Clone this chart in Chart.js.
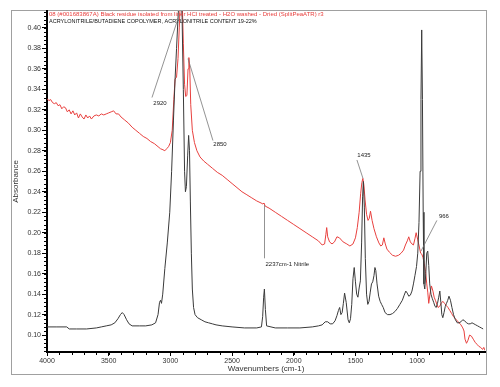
<!DOCTYPE html>
<html>
<head>
<meta charset="utf-8">
<script src="https://cdn.jsdelivr.net/npm/chart.js@4"></script>
<style>
  html, body { margin: 0; padding: 0; background: #fff; }
  canvas { display: block; }
</style>
</head>
<body>
<canvas id="irChart" width="500" height="387"></canvas>
<script>
// sample spectrum (red)
const sampleWn = [4000, 3985, 3970, 3955, 3940, 3925, 3910, 3895, 3880, 3865, 3850, 3835, 3820, 3805, 3790, 3775, 3760, 3745, 3730, 3715, 3700, 3685, 3670, 3655, 3640, 3620, 3600, 3580, 3560, 3540, 3520, 3500, 3480, 3460, 3440, 3420, 3400, 3370, 3340, 3310, 3280, 3250, 3220, 3190, 3160, 3130, 3100, 3080, 3060, 3045, 3030, 3015, 3000, 2985, 2972, 2962, 2950, 2938, 2928, 2918, 2905, 2895, 2885, 2876, 2866, 2857, 2850, 2843, 2835, 2822, 2805, 2785, 2760, 2730, 2700, 2660, 2620, 2580, 2540, 2500, 2460, 2420, 2380, 2340, 2300, 2265, 2250, 2241, 2232, 2200, 2150, 2100, 2050, 2000, 1950, 1900, 1850, 1800, 1770, 1750, 1740, 1733, 1725, 1710, 1690, 1670, 1650, 1630, 1600, 1570, 1545, 1520, 1500, 1485, 1470, 1458, 1448, 1440, 1432, 1422, 1410, 1398, 1388, 1378, 1365, 1350, 1330, 1310, 1295, 1282, 1270, 1258, 1245, 1225, 1200, 1175, 1150, 1130, 1110, 1095, 1080, 1068, 1055, 1042, 1030, 1018, 1008, 995, 982, 972, 962, 953, 943, 932, 922, 914, 906, 896, 884, 872, 862, 852, 840, 830, 818, 805, 792, 778, 765, 750, 735, 720, 705, 690, 675, 660, 645, 630, 620, 612, 600, 588, 575, 560, 545, 530, 515, 500, 485, 470, 460, 450];
const sampleAbs = [0.331, 0.329, 0.330, 0.327, 0.326, 0.327, 0.324, 0.325, 0.321, 0.323, 0.322, 0.318, 0.320, 0.316, 0.319, 0.315, 0.317, 0.312, 0.316, 0.313, 0.311, 0.315, 0.312, 0.314, 0.311, 0.314, 0.315, 0.314, 0.316, 0.315, 0.316, 0.317, 0.318, 0.319, 0.316, 0.316, 0.313, 0.310, 0.307, 0.303, 0.300, 0.297, 0.294, 0.292, 0.289, 0.287, 0.284, 0.282, 0.281, 0.280, 0.282, 0.284, 0.288, 0.300, 0.330, 0.350, 0.352, 0.370, 0.400, 0.430, 0.430, 0.385, 0.345, 0.333, 0.334, 0.360, 0.371, 0.360, 0.325, 0.300, 0.288, 0.280, 0.274, 0.270, 0.267, 0.263, 0.259, 0.256, 0.252, 0.248, 0.244, 0.240, 0.237, 0.234, 0.231, 0.229, 0.228, 0.229, 0.226, 0.224, 0.220, 0.216, 0.212, 0.208, 0.204, 0.200, 0.196, 0.192, 0.188, 0.189, 0.198, 0.205, 0.196, 0.191, 0.189, 0.191, 0.196, 0.195, 0.191, 0.189, 0.187, 0.189, 0.195, 0.205, 0.220, 0.238, 0.249, 0.253, 0.247, 0.232, 0.218, 0.212, 0.214, 0.221, 0.212, 0.204, 0.196, 0.190, 0.187, 0.188, 0.195, 0.189, 0.184, 0.181, 0.178, 0.177, 0.178, 0.180, 0.183, 0.188, 0.192, 0.196, 0.191, 0.189, 0.188, 0.194, 0.200, 0.193, 0.186, 0.180, 0.179, 0.176, 0.170, 0.162, 0.150, 0.142, 0.131, 0.140, 0.148, 0.143, 0.137, 0.134, 0.130, 0.127, 0.128, 0.131, 0.133, 0.131, 0.129, 0.127, 0.124, 0.121, 0.118, 0.116, 0.114, 0.112, 0.110, 0.107, 0.104, 0.096, 0.092, 0.095, 0.100, 0.099, 0.096, 0.093, 0.091, 0.089, 0.088, 0.086, 0.088, 0.085];

// reference spectrum, NBR copolymer (black)
const refWn = [4000, 3920, 3840, 3820, 3760, 3680, 3600, 3560, 3520, 3480, 3450, 3425, 3405, 3390, 3375, 3355, 3335, 3310, 3250, 3200, 3150, 3120, 3100, 3088, 3080, 3072, 3062, 3045, 3025, 3005, 2990, 2975, 2962, 2950, 2938, 2925, 2915, 2905, 2895, 2885, 2878, 2870, 2860, 2852, 2845, 2838, 2830, 2822, 2812, 2800, 2780, 2750, 2720, 2690, 2660, 2630, 2580, 2500, 2400, 2300, 2262, 2252, 2244, 2238, 2230, 2220, 2150, 2050, 1950, 1850, 1800, 1770, 1745, 1725, 1705, 1685, 1665, 1650, 1638, 1628, 1618, 1608, 1598, 1588, 1575, 1560, 1550, 1540, 1530, 1520, 1510, 1500, 1490, 1480, 1470, 1460, 1450, 1442, 1436, 1428, 1420, 1410, 1400, 1390, 1380, 1370, 1360, 1350, 1342, 1335, 1325, 1312, 1300, 1288, 1275, 1260, 1240, 1220, 1200, 1180, 1160, 1140, 1120, 1105, 1092, 1080, 1068, 1055, 1042, 1030, 1018, 1005, 995, 985, 976, 969, 963, 957, 951, 945, 938, 930, 922, 914, 906, 898, 888, 878, 866, 855, 845, 835, 825, 816, 808, 800, 792, 782, 772, 762, 752, 742, 730, 718, 705, 690, 675, 660, 645, 630, 615, 600, 585, 570, 555, 540, 525, 510, 495, 480, 465, 450];
const refAbs = [0.108, 0.108, 0.108, 0.106, 0.106, 0.106, 0.107, 0.108, 0.109, 0.110, 0.112, 0.116, 0.120, 0.122, 0.120, 0.115, 0.111, 0.109, 0.109, 0.109, 0.110, 0.112, 0.120, 0.132, 0.134, 0.131, 0.140, 0.165, 0.190, 0.220, 0.260, 0.310, 0.350, 0.380, 0.410, 0.440, 0.440, 0.410, 0.340, 0.260, 0.240, 0.245, 0.275, 0.295, 0.280, 0.230, 0.180, 0.145, 0.127, 0.120, 0.117, 0.115, 0.113, 0.112, 0.111, 0.110, 0.109, 0.108, 0.107, 0.107, 0.108, 0.118, 0.137, 0.145, 0.125, 0.109, 0.107, 0.107, 0.107, 0.108, 0.109, 0.110, 0.113, 0.113, 0.111, 0.111, 0.114, 0.119, 0.124, 0.127, 0.120, 0.122, 0.131, 0.141, 0.132, 0.115, 0.112, 0.116, 0.130, 0.155, 0.166, 0.152, 0.140, 0.137, 0.146, 0.153, 0.190, 0.235, 0.250, 0.225, 0.175, 0.140, 0.130, 0.133, 0.142, 0.150, 0.152, 0.158, 0.166, 0.163, 0.150, 0.138, 0.133, 0.130, 0.127, 0.122, 0.120, 0.120, 0.121, 0.123, 0.126, 0.130, 0.134, 0.139, 0.143, 0.141, 0.138, 0.139, 0.143, 0.150, 0.158, 0.167, 0.180, 0.210, 0.260, 0.330, 0.398, 0.330, 0.220, 0.150, 0.145, 0.160, 0.180, 0.182, 0.168, 0.150, 0.140, 0.136, 0.132, 0.128, 0.127, 0.131, 0.137, 0.143, 0.132, 0.120, 0.117, 0.122, 0.128, 0.131, 0.134, 0.138, 0.134, 0.127, 0.120, 0.115, 0.112, 0.112, 0.113, 0.115, 0.114, 0.112, 0.111, 0.111, 0.112, 0.111, 0.110, 0.109, 0.108, 0.107, 0.106];

const xTicks = [4000, 3500, 3000, 2500, 2000, 1500, 1000];
const yTicks = [0.10, 0.12, 0.14, 0.16, 0.18, 0.20, 0.22, 0.24, 0.26, 0.28, 0.30, 0.32, 0.34, 0.36, 0.38, 0.40];

const sampleTitle = "08 (#001683867A) Black residue isolated from liner HCl treated - H2O washed - Dried (SplitPeaATR) r3";
const refTitle = "ACRYLONITRILE/BUTADIENE COPOLYMER, ACRYLONITRILE CONTENT 19-22%";

// peak labels: [label, labelWn, labelAbs, lineFromWn, lineFromAbs, lineToWn, lineToAbs]
const peakNotes = [
  ["2920", 3084, 0.326, 3149, 0.332, 2930, 0.412],
  ["2850", 2598, 0.286, 2655, 0.290, 2857, 0.370],
  ["1435", 1431, 0.276, 1488, 0.271, 1439, 0.253],
  ["966", 783, 0.2155, 840, 0.212, 969, 0.182]
];
const nitrileNote = ["2237cm-1 Nitrile", 2245, 0.227, 0.175];

const RED = "#e8403e";
const BLACK = "#3a3a3a";
const FONT = "'Liberation Sans', Arial, sans-serif";

function toPoints(xs, ys) {
  return xs.map((x, i) => ({ x: x, y: ys[i] }));
}

const decorPlugin = {
  id: "decor",
  beforeDraw(chart) {
    const c = chart.ctx;
    c.save();
    c.strokeStyle = "#a0a0a0";
    c.lineWidth = 1;
    c.strokeRect(11.5, 10.5, 475, 364);
    c.restore();
  },
  afterDraw(chart) {
    const c = chart.ctx;
    const xs = chart.scales.x;
    const ys = chart.scales.y;
    const area = chart.chartArea;
    c.save();

    // minor ticks
    c.strokeStyle = "#000";
    c.lineWidth = 1;
    c.beginPath();
    for (let v = 0.084; v <= 0.4165; v += 0.004) {
      const py = Math.round(ys.getPixelForValue(v)) + 0.5;
      c.moveTo(area.left - 3, py);
      c.lineTo(area.left, py);
    }
    for (let v = 500; v <= 4000; v += 100) {
      const px = Math.round(xs.getPixelForValue(v)) + 0.5;
      c.moveTo(px, area.bottom);
      c.lineTo(px, area.bottom + 3);
    }
    c.stroke();

    // spectrum titles
    c.textBaseline = "middle";
    c.textAlign = "left";
    c.fillStyle = RED;
    c.font = "6px " + FONT;
    c.fillText(sampleTitle, area.left + 2, 14);
    c.fillStyle = "#111";
    c.font = "5.5px " + FONT;
    c.fillText(refTitle, area.left + 2, 21);

    // peak annotations
    c.strokeStyle = "#777";
    c.lineWidth = 0.8;
    c.fillStyle = "#222";
    c.font = "6px " + FONT;
    c.textAlign = "center";
    peakNotes.forEach(n => {
      c.beginPath();
      c.moveTo(xs.getPixelForValue(n[3]), ys.getPixelForValue(n[4]));
      c.lineTo(xs.getPixelForValue(n[5]), ys.getPixelForValue(n[6]));
      c.stroke();
      c.fillText(n[0], xs.getPixelForValue(n[1]), ys.getPixelForValue(n[2]));
    });
    const nx = Math.round(xs.getPixelForValue(nitrileNote[1])) + 0.5;
    c.beginPath();
    c.moveTo(nx, ys.getPixelForValue(nitrileNote[2]));
    c.lineTo(nx, ys.getPixelForValue(nitrileNote[3]));
    c.stroke();
    c.textAlign = "left";
    c.fillText(nitrileNote[0], nx + 1, ys.getPixelForValue(nitrileNote[3]) + 6);
    c.restore();
  }
};

const chart = new Chart(document.getElementById("irChart").getContext("2d"), {
  type: "scatter",
  data: {
    datasets: [
      {
        label: "reference",
        data: toPoints(refWn, refAbs),
        showLine: true,
        borderColor: BLACK,
        borderWidth: 1,
        pointRadius: 0,
        tension: 0
      },
      {
        label: "sample",
        data: toPoints(sampleWn, sampleAbs),
        showLine: true,
        borderColor: RED,
        borderWidth: 1,
        pointRadius: 0,
        tension: 0
      }
    ]
  },
  options: {
    responsive: false,
    animation: false,
    layout: { padding: { left: 11, right: 15, top: 11, bottom: 13 } },
    plugins: {
      legend: { display: false },
      tooltip: { enabled: false }
    },
    scales: {
      x: {
        type: "linear",
        reverse: true,
        min: 450,
        max: 4000,
        afterFit: s => { s.height = 22; },
        afterBuildTicks: s => { s.ticks = xTicks.map(v => ({ value: v })); },
        grid: { drawOnChartArea: false, drawTicks: true, tickLength: 4, color: "#000" },
        border: { display: true, color: "#000", width: 2 },
        ticks: { color: "#333", font: { family: FONT, size: 7 }, padding: 1, maxRotation: 0, autoSkip: false, callback: v => String(v) },
        title: { display: true, text: "Wavenumbers (cm-1)", color: "#333", font: { family: FONT, size: 8 }, padding: 0 }
      },
      y: {
        min: 0.0835,
        max: 0.4165,
        afterFit: s => { s.width = 36; },
        afterBuildTicks: s => { s.ticks = yTicks.map(v => ({ value: v })); },
        grid: { drawOnChartArea: false, drawTicks: true, tickLength: 5, color: "#000" },
        border: { display: true, color: "#000", width: 2 },
        ticks: { color: "#333", font: { family: FONT, size: 7 }, padding: 1, callback: v => v.toFixed(2) },
        title: { display: true, text: "Absorbance", color: "#333", font: { family: FONT, size: 8 }, padding: 0 }
      }
    }
  },
  plugins: [decorPlugin]
});
</script>
</body>
</html>
